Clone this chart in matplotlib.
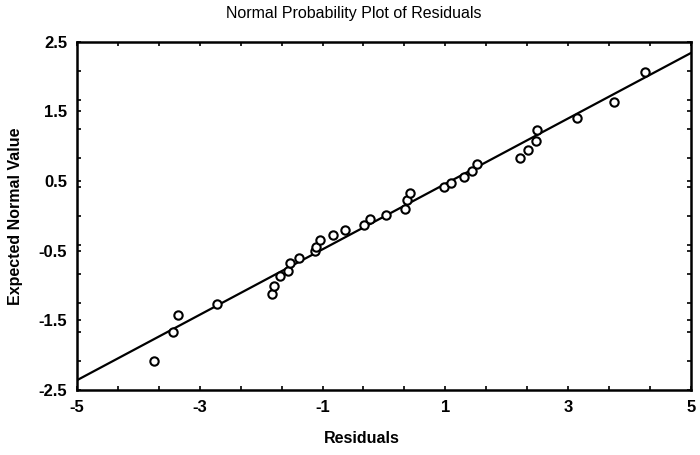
import numpy as np
import matplotlib
matplotlib.use('Agg')
import matplotlib.pyplot as plt

# residuals and expected normal values
residuals = [-3.75, -3.44, -3.36, -2.72, -1.82, -1.79, -1.69, -1.56, -1.53,
             -1.38, -1.12, -1.11, -1.04, -0.83, -0.64, -0.33, -0.23, 0.04,
             0.34, 0.37, 0.43, 0.98, 1.10, 1.31, 1.43, 1.52, 2.21, 2.35,
             2.48, 2.50, 3.14, 3.75, 4.25]
expected = [-2.08, -1.67, -1.43, -1.26, -1.12, -1.01, -0.87, -0.79, -0.67,
            -0.60, -0.51, -0.44, -0.35, -0.27, -0.20, -0.13, -0.05, 0.02,
            0.10, 0.23, 0.33, 0.42, 0.47, 0.56, 0.64, 0.75, 0.83, 0.94,
            1.08, 1.24, 1.40, 1.64, 2.06]

# fitted reference line end points
line_x = [-5, 5]
line_y = [-2.36, 2.34]

xticks = [-5, -3, -1, 1, 3, 5]
yticks = [-2.5, -1.5, -0.5, 0.5, 1.5, 2.5]

plt.rcParams['font.family'] = ['Liberation Sans', 'DejaVu Sans']

fig = plt.figure(figsize=(7, 4.55), dpi=100)
ax = fig.add_axes([0.11, 0.143, 0.877, 0.765])

ax.plot(line_x, line_y, c='black', lw=1.6, zorder=2)
ax.plot(residuals, expected, 'o', mfc='white', mec='black', ms=6, mew=1.5, zorder=3)

ax.set_xlim(-5, 5)
ax.set_ylim(-2.5, 2.5)
ax.set_xticks(xticks)
ax.set_yticks(yticks)
ax.set_xticklabels([str(t) for t in xticks], fontweight='bold', fontsize=12)
ax.set_yticklabels([str(t) for t in yticks], fontweight='bold', fontsize=12)
ax.set_xticks(np.linspace(-5, 5, 16), minor=True)
ax.set_yticks(np.linspace(-2.5, 2.5, 13), minor=True)
ax.tick_params(which='both', direction='in', length=3, width=1.2,
               top=True, right=True, pad=7)

for s in ax.spines.values():
    s.set_linewidth(1.8)

fig.text(0.506, 0.97, 'Normal Probability Plot of Residuals', ha='center', va='center', fontsize=11.5)
fig.text(0.517, 0.037, 'Residuals', ha='center', va='center', fontsize=11.5, fontweight='bold')
fig.text(0.022, 0.525, 'Expected Normal Value', ha='center', va='center', rotation=90,
         fontsize=11.5, fontweight='bold')

fig.savefig('out.png', dpi=100)
